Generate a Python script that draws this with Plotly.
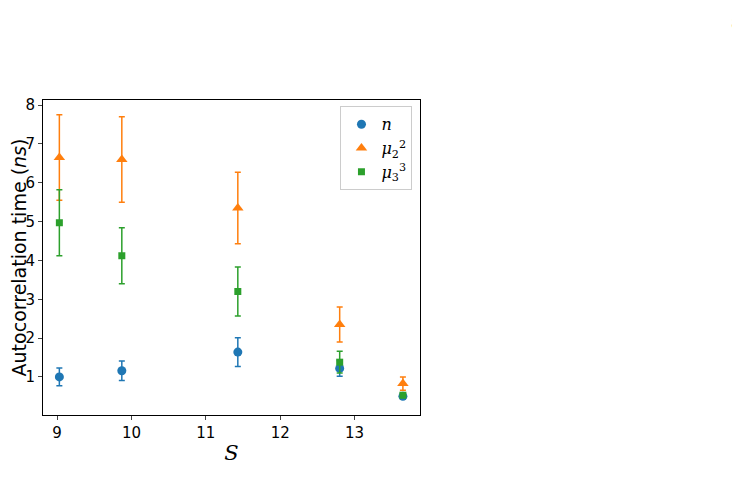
import plotly.graph_objects as go

S = [9.03, 9.87, 11.43, 12.8, 13.65]
n_vals = [1.0, 1.16, 1.64, 1.22, 0.5]
n_err = [0.23, 0.25, 0.37, 0.2, 0.06]
mu2_vals = [6.65, 6.6, 5.35, 2.35, 0.83]
mu2_err = [1.1, 1.1, 0.92, 0.45, 0.17]
mu3_vals = [4.97, 4.12, 3.2, 1.38, 0.53]
mu3_err = [0.85, 0.72, 0.63, 0.28, 0.06]

fig = go.Figure()
series = [
    ("<i>n</i>", n_vals, n_err, "#1f77b4", "circle", 9),
    ("<i>μ</i><sub>2</sub><sup>2</sup>", mu2_vals, mu2_err, "#ff7f0e", "triangle-up", 10),
    ("<i>μ</i><sub>3</sub><sup>3</sup>", mu3_vals, mu3_err, "#2ca02c", "square", 7),
]
for name, y, e, c, sym, sz in series:
    fig.add_trace(go.Scatter(
        x=S, y=y, name=name, mode="markers",
        marker=dict(color=c, symbol=sym, size=sz),
        error_y=dict(type="data", array=e, color=c, thickness=1.5, width=3),
    ))

L, R, T, B = 35, 328, 92, 80
fig.update_layout(
    width=740, height=487, paper_bgcolor="white", plot_bgcolor="white",
    margin=dict(l=L, r=R, t=T, b=B, autoexpand=False),
    font=dict(family="DejaVu Sans", size=15, color="black"),
    showlegend=True,
    legend=dict(x=0.98, y=0.98, xanchor="right", yanchor="top",
                bordercolor="#cccccc", borderwidth=1, font=dict(size=16, family="DejaVu Serif")),
    xaxis=dict(range=[8.81, 13.88], tickvals=[9, 10, 11, 12, 13], showgrid=False,
               showline=True, mirror=True, linecolor="black", ticks="outside", ticklen=4,
               zeroline=False,
               title=dict(text="<i>S</i>", font=dict(size=21, family="DejaVu Serif"), standoff=4)),
    yaxis=dict(range=[0.02, 8.13], tickvals=[1, 2, 3, 4, 5, 6, 7, 8], showgrid=False,
               showline=True, mirror=True, linecolor="black", ticks="outside", ticklen=4,
               zeroline=False,
               title=dict(text="Autocorrelation time (<i>ns</i>)", font=dict(size=19), standoff=2)),
    annotations=[dict(text="8", xref="paper", yref="paper",
                      x=(728 - L) / (740 - L - R), y=(487 - B - 15) / (487 - T - B),
                      xanchor="center", yanchor="middle", showarrow=False,
                      font=dict(size=16, family="DejaVu Serif"))],
)
fig.write_html("out.html")
